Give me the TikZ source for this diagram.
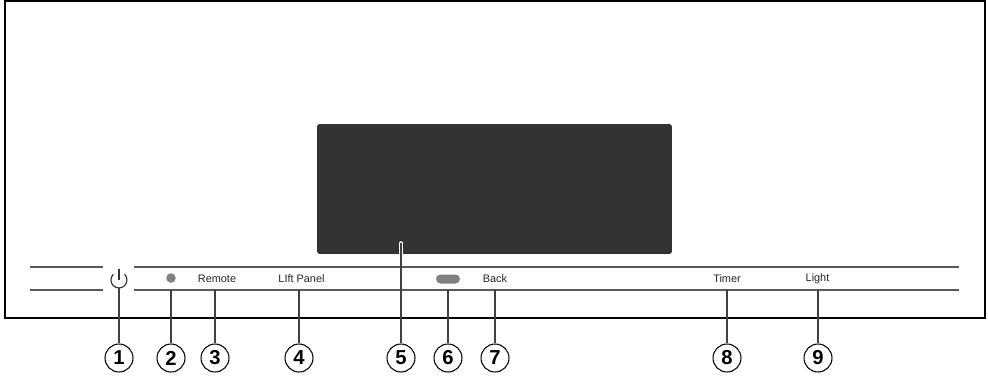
\documentclass[tikz,border=0pt]{standalone}
\usepackage{fontspec}
\setmainfont{Liberation Sans}
\begin{document}
\begin{tikzpicture}[
    x=0.02cm, y=-0.02cm,
    num/.style={circle, draw=black, line width=0.6pt, fill=white, minimum size=0.56cm, inner sep=0pt, font=\fontsize{11.5}{13}\selectfont\bfseries},
    lbl/.style={inner sep=0pt, text=black!85, font=\fontsize{6.2}{7}\selectfont},
    lead/.style={draw=black!75, line width=0.7pt},
    rule/.style={draw=black!65, line width=0.65pt}
]
    \useasboundingbox (0,0) rectangle (988,376);

    % Gehaeuse
    \draw[black, line width=0.85pt] (5,1) rectangle (985,318);

    % Bedienleiste
    \draw[rule] (30,267) -- (103,267);
    \draw[rule] (134,267) -- (959,267);
    \draw[rule] (30,290) -- (103,290);
    \draw[rule] (134,290) -- (959,290);

    % Anzeige
    \node[fill=black!80, rounded corners=1.5pt, minimum width=7.1cm, minimum height=2.6cm, inner sep=0pt] (panel) at (494.5,189) {};

    % Bedienelemente
    \node[circle, fill=black!50, minimum size=0.19cm, inner sep=0pt] (led) at (171,278) {};
    \node[lbl] (remote) at (217,278.5) {Remote};
    \node[lbl] (lift) at (301.5,279) {LIft Panel};
    \node[rounded corners=2.5pt, fill=black!50, minimum width=0.48cm, minimum height=0.18cm, inner sep=0pt] (pill) at (448,279) {};
    \node[lbl] (back) at (495,279) {Back};
    \node[lbl] (timer) at (727,279) {Timer};
    \node[lbl] (light) at (817.5,278.5) {Light};

    % Einschalter
    \draw[black!80, line width=0.65pt] (113.3,274.3) arc[start angle=225, end angle=-45, radius=8];
    \draw[black!80, line width=0.65pt] (119,269) -- (119,279.5);

    % Positionsnummern
    \node[num] (n1) at (119,358) {1};
    \node[num] (n2) at (171,358) {2};
    \node[num] (n3) at (215,358) {3};
    \node[num] (n4) at (299,358) {4};
    \node[num] (n5) at (401,358) {5};
    \node[num] (n6) at (448,358) {6};
    \node[num] (n7) at (495,358) {7};
    \node[num] (n8) at (727,358) {8};
    \node[num] (n9) at (818,358) {9};

    % Hinweislinien
    \coordinate (t1) at (119,288);
    \coordinate (t2) at (171,290);
    \coordinate (t3) at (215,290);
    \coordinate (t4) at (299,290);
    \coordinate (t5) at (401,243);
    \coordinate (t6) at (448,290);
    \coordinate (t7) at (495,290);
    \coordinate (t8) at (727,290);
    \coordinate (t9) at (818,290);
    \draw[white, line width=2pt, line cap=round] (t5) -- (panel.south -| t5);
    \draw[lead] (t1) -- (n1);
    \draw[lead] (t2) -- (n2);
    \draw[lead] (t3) -- (n3);
    \draw[lead] (t4) -- (n4);
    \draw[lead] (t5) -- (n5);
    \draw[lead] (t6) -- (n6);
    \draw[lead] (t7) -- (n7);
    \draw[lead] (t8) -- (n8);
    \draw[lead] (t9) -- (n9);
\end{tikzpicture}
\end{document}
